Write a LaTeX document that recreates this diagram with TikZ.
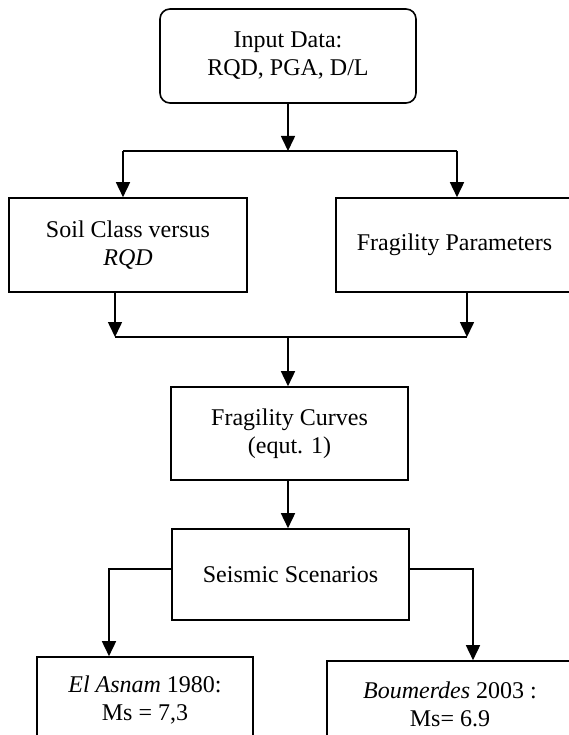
\documentclass[tikz,border=0pt]{standalone}
\usepackage{fontspec}
\setmainfont{Liberation Serif}
\usetikzlibrary{arrows.meta}
\tikzset{
  box/.style={draw, line width=1.6pt, inner sep=0pt, align=center,
    font=\fontsize{24}{28}\selectfont},
  txt/.style={inner sep=0pt, align=center, font=\fontsize{24}{28}\selectfont},
  conn/.style={line width=1.6pt},
  arr/.style={line width=1.6pt, -{Triangle[width=14pt,length=15pt]}}
}
\begin{document}
\begin{tikzpicture}[x=1pt,y=-1pt]
\useasboundingbox (0,0) rectangle (569,735);
\clip (0,0) rectangle (569,735);
% boxes
\node[box, rounded corners=10pt, minimum width=256pt, minimum height=94pt] (in) at (288,56) {Input Data:\\RQD, PGA, D/L};
\node[box, minimum width=238pt, minimum height=94pt] (soil) at (128,245) {Soil Class versus\\\textit{RQD}};
\node[box, minimum width=237pt, minimum height=94pt] (fp) at (454.5,245) {Fragility Parameters};
\node[box, minimum width=237pt, minimum height=93pt] (fc) at (289.5,433.5) {Fragility Curves\\(equt. 1)};
\node[box, minimum width=237pt, minimum height=91pt] (ss) at (290.5,574.5) {Seismic Scenarios};
\node[box, minimum width=216pt, minimum height=123pt] (ea) at (145,718.5) {};
\node[box, minimum width=246pt, minimum height=119pt] (bo) at (450,720.5) {};
\node[txt] (eat) at (145,700) {\textit{El Asnam} 1980:\\Ms = 7,3};
\node[txt] (bot) at (450,704) {\textit{Boumerdes} 2003 :\\Ms= 6.9};
% junction coordinates
\coordinate (s1) at (288,151);
\coordinate (sl) at (123,151);
\coordinate (sr) at (457,151);
\coordinate (m1) at (115,337);
\coordinate (m2) at (467,337);
\coordinate (mc) at (288,337);
\coordinate (bl) at (109,569);
\coordinate (br) at (473,569);
% connectors
\draw[arr] (in.south -| s1) -- (s1);
\draw[conn] (sl) -- (sr);
\draw[arr] (sl) -- (sl |- soil.north);
\draw[arr] (sr) -- (sr |- fp.north);
\draw[arr] (soil.south -| m1) -- (m1);
\draw[arr] (fp.south -| m2) -- (m2);
\draw[conn] (m1) -- (m2);
\draw[arr] (mc) -- (mc |- fc.north);
\draw[arr] (fc.south -| mc) -- (mc |- ss.north);
\draw[arr] (ss.west |- bl) -- (bl) -- (bl |- ea.north);
\draw[arr] (ss.east |- br) -- (br) -- (br |- bo.north);
\end{tikzpicture}
\end{document}
